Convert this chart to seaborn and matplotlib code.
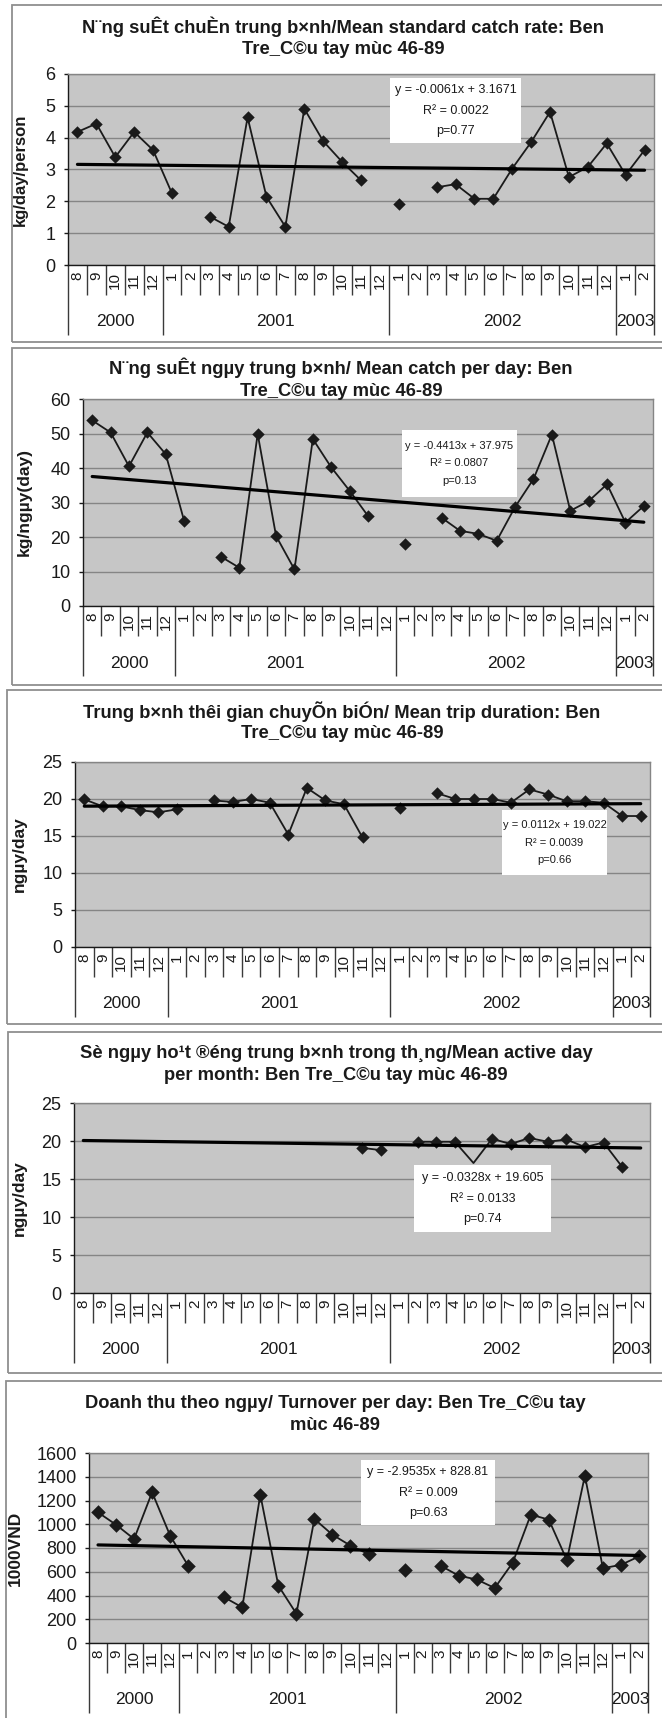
import numpy as np
import pandas as pd
import matplotlib
matplotlib.use("Agg")
import matplotlib.pyplot as plt
import seaborn as sns
from matplotlib.patches import Rectangle
from matplotlib.transforms import blended_transform_factory

sns.set_theme(style="white")
plt.rcParams["font.family"] = ["Liberation Sans", "DejaVu Sans"]

nan = np.nan

# ---- categories -------------------------------------------------------
month_labels = ["8", "9", "10", "11", "12",
                "1", "2", "3", "4", "5", "6", "7", "8", "9", "10", "11", "12",
                "1", "2", "3", "4", "5", "6", "7", "8", "9", "10", "11", "12",
                "1", "2"]
year_labels = ["2000", "2001", "2002", "2003"]
year_months = [5, 12, 12, 2]

# ---- series -----------------------------------------------------------
catch_rate = [4.18, 4.44, 3.39, 4.18, 3.61,
              2.25, nan, 1.52, 1.20, 4.64, 2.14, 1.20, 4.91, 3.89, 3.24, 2.66, nan,
              1.93, nan, 2.44, 2.54, 2.08, 2.08, 3.03, 3.86, 4.81, 2.76, 3.08, 3.82,
              2.83, 3.61]
catch_day = [53.8, 50.3, 40.5, 50.3, 44.0,
             24.7, nan, 14.3, 11.1, 49.9, 20.3, 10.6, 48.4, 40.2, 33.4, 26.1, nan,
             18.0, nan, 25.6, 21.8, 20.9, 18.9, 28.7, 36.8, 49.7, 27.6, 30.4, 35.3,
             24.2, 29.0]
trip_days = [19.95, 19.0, 19.0, 18.5, 18.2,
             18.6, nan, 19.8, 19.6, 20.0, 19.5, 15.2, 21.5, 19.8, 19.3, 14.8, nan,
             18.8, nan, 20.8, 20.0, 20.0, 20.0, 19.5, 21.3, 20.6, 19.7, 19.7, 19.5,
             17.7, 17.7]
active_days = [nan, nan, nan, nan, nan,
               nan, nan, nan, nan, nan, nan, nan, nan, nan, nan, 19.1, 18.8,
               nan, 19.9, 19.9, 19.9, 17.1, 20.3, 19.6, 20.4, 19.9, 20.2, 19.2, 19.8,
               16.6, nan]
turnover = [1100, 996, 876, 1269, 904,
            650, nan, 385, 300, 1249, 483, 247, 1044, 912, 820, 749, nan,
            617, nan, 651, 567, 535, 463, 677, 1081, 1039, 698, 1409, 630,
            658, 729]

titles = [
    ("N¨ng suÊt chuÈn trung b×nh/Mean standard catch rate: Ben", "Tre_C©u tay mùc 46-89"),
    ("N¨ng suÊt ngµy trung b×nh/ Mean catch per day: Ben", "Tre_C©u tay mùc 46-89"),
    ("Trung b×nh thêi gian chuyÕn biÓn/ Mean trip duration: Ben", "Tre_C©u tay mùc 46-89"),
    ("Sè ngµy ho¹t ®éng trung b×nh trong th¸ng/Mean active day", "per month: Ben Tre_C©u tay mùc 46-89"),
    ("Doanh thu theo ngµy/ Turnover per day: Ben Tre_C©u tay", "mùc 46-89"),
]
y_titles = ["kg/day/person", "kg/ngµy(day)", "ngµy/day", "ngµy/day", "1000VND"]
series = [catch_rate, catch_day, trip_days, active_days, turnover]

# linear trend: y = slope * (x - x_shift) + intercept, x = 1..31
trend_slope = [-0.0061, -0.4413, 0.0112, -0.0328, -2.9535]
trend_intercept = [3.1671, 37.975, 19.022, 19.605, 828.81]
trend_x_shift = [0, 0, 0, 15, 0]
trend_r2 = ["0.0022", "0.0807", "0.0039", "0.0133", "0.009"]
trend_p = ["0.77", "0.13", "0.66", "0.74", "0.63"]

y_max = [6, 60, 25, 25, 1600]
y_step = [1, 10, 5, 5, 200]
hidden_marker = [[], [], [], [21], []]

# ---- layout (pixels) --------------------------------------------------
W, H = 662, 1718
plot_box = [(68, 74, 654, 265), (83, 399, 653, 606), (75, 762, 650, 947),
            (74, 1103, 650, 1293), (89, 1453, 648, 1643)]
frame_box = [(12, 5, 690, 342), (12, 348, 690, 685), (7, 690, 690, 1024),
             (8, 1032, 690, 1373), (6, 1381, 690, 1740)]
title_x = [343, 341, 342, 336, 335]
title_y = [(27, 50), (368, 392), (712, 733), (1053, 1075), (1403, 1425)]
ylabel_x = [28, 32, 27, 27, 23]
ylabel_size = [12, 12.5, 12.5, 12.5, 12.5]
note_box = [(390, 78, 521, 143), (402, 430, 517, 497), (502, 810, 607, 875),
            (414, 1165, 551, 1232), (361, 1460, 495, 1525)]
note_size = [9, 8, 8, 9, 9]
marker_size = [40, 40, 40, 40, 55]

PLOT_BG = "#c6c6c6"
GRID = "#858585"
INK = "#1a1a1a"

fig = plt.figure(figsize=(W / 100, H / 100), dpi=100)
fig.patch.set_facecolor("white")


def fig_rect(l, t, r, b):
    return [l / W, 1 - b / H, (r - l) / W, (b - t) / H]


for i in range(5):
    l, t, r, b = frame_box[i]
    fig.add_artist(Rectangle((l / W, 1 - b / H), (r - l) / W, (b - t) / H,
                             transform=fig.transFigure, fill=False,
                             ec="#8f8f8f", lw=1.3, zorder=0))

    pl, pt, pr, pb = plot_box[i]
    ax = fig.add_axes(fig_rect(pl, pt, pr, pb))
    ax.set_facecolor(PLOT_BG)
    h_px = pb - pt

    df = pd.DataFrame({"pos": np.arange(len(month_labels)), "val": series[i]})
    df["seg"] = df["val"].isna().cumsum()
    pts = df.dropna()
    sns.lineplot(data=pts, x="pos", y="val", units="seg", estimator=None,
                 sort=False, color=INK, lw=1.3, ax=ax, legend=False, zorder=3)
    shown = pts[~pts["pos"].isin(hidden_marker[i])]
    sns.scatterplot(data=shown, x="pos", y="val", marker="D", s=marker_size[i],
                    color=INK, edgecolor=INK, linewidth=0, ax=ax,
                    legend=False, zorder=4)

    tx = np.array([1, len(month_labels)])
    ty = trend_slope[i] * (tx - trend_x_shift[i]) + trend_intercept[i]
    sns.lineplot(x=tx - 1, y=ty, color="black", lw=2.3, ax=ax, zorder=5)

    ax.set_xlim(-0.5, len(month_labels) - 0.5)
    ax.set_ylim(0, y_max[i])
    ax.set_yticks(np.arange(0, y_max[i] + y_step[i] / 2, y_step[i]))
    ax.yaxis.grid(True, color=GRID, lw=1.0)
    ax.xaxis.grid(False)
    ax.set_axisbelow(True)
    ax.tick_params(axis="y", length=3, width=1, color=INK, labelsize=13,
                   labelcolor=INK, pad=6, left=True)
    ax.set_xticks(np.arange(len(month_labels)))
    ax.set_xticklabels(month_labels, rotation=90, fontsize=11, color=INK)
    ax.tick_params(axis="x", length=0, pad=5)
    for side in ("top", "right"):
        ax.spines[side].set_color(GRID)
        ax.spines[side].set_linewidth(1.0)
    for side in ("left", "bottom"):
        ax.spines[side].set_color(INK)
        ax.spines[side].set_linewidth(1.0)
    ax.set_xlabel("")
    ax.set_ylabel(y_titles[i], fontsize=ylabel_size[i], fontweight="bold", color=INK)
    ax.yaxis.set_label_coords((ylabel_x[i] - pl) / (pr - pl), 0.5)

    # category separators below the axis
    trans = blended_transform_factory(ax.transData, ax.transAxes)
    bounds = np.arange(len(month_labels) + 1) - 0.5
    year_edges = np.concatenate([[0], np.cumsum(year_months)]) - 0.5
    month_edges = [x for x in bounds if x not in set(year_edges)]
    ax.vlines(month_edges, -30 / h_px, 0, transform=trans, clip_on=False,
              color="#3a3a3a", lw=1.0)
    ax.vlines(year_edges, -70 / h_px, 0, transform=trans, clip_on=False,
              color="#3a3a3a", lw=1.0)
    starts = np.concatenate([[0], np.cumsum(year_months)[:-1]])
    for yl, s0, n in zip(year_labels, starts, year_months):
        ax.text(s0 + (n - 1) / 2, -57 / h_px, yl, transform=trans,
                ha="center", va="center", fontsize=12.5, color=INK)

    # chart title
    for line, yy in zip(titles[i], title_y[i]):
        fig.text(title_x[i] / W, 1 - yy / H, line, ha="center", va="center",
                 fontsize=13.2, fontweight="bold", color=INK)

    # trend annotation
    nl, nt, nr, nb = note_box[i]
    fig.add_artist(Rectangle((nl / W, 1 - nb / H), (nr - nl) / W, (nb - nt) / H,
                             transform=fig.transFigure, fc="white", ec="none",
                             zorder=6))
    sign = "-" if trend_slope[i] < 0 else ""
    eq = f"y = {sign}{abs(trend_slope[i])}x + {trend_intercept[i]}"
    note = f"{eq}\nR² = {trend_r2[i]}\np={trend_p[i]}"
    fig.text((nl + nr) / 2 / W, 1 - (nt + nb) / 2 / H, note, ha="center",
             va="center", fontsize=note_size[i], color=INK, linespacing=1.9,
             zorder=7)

fig.savefig("out.png", dpi=100, facecolor="white")
